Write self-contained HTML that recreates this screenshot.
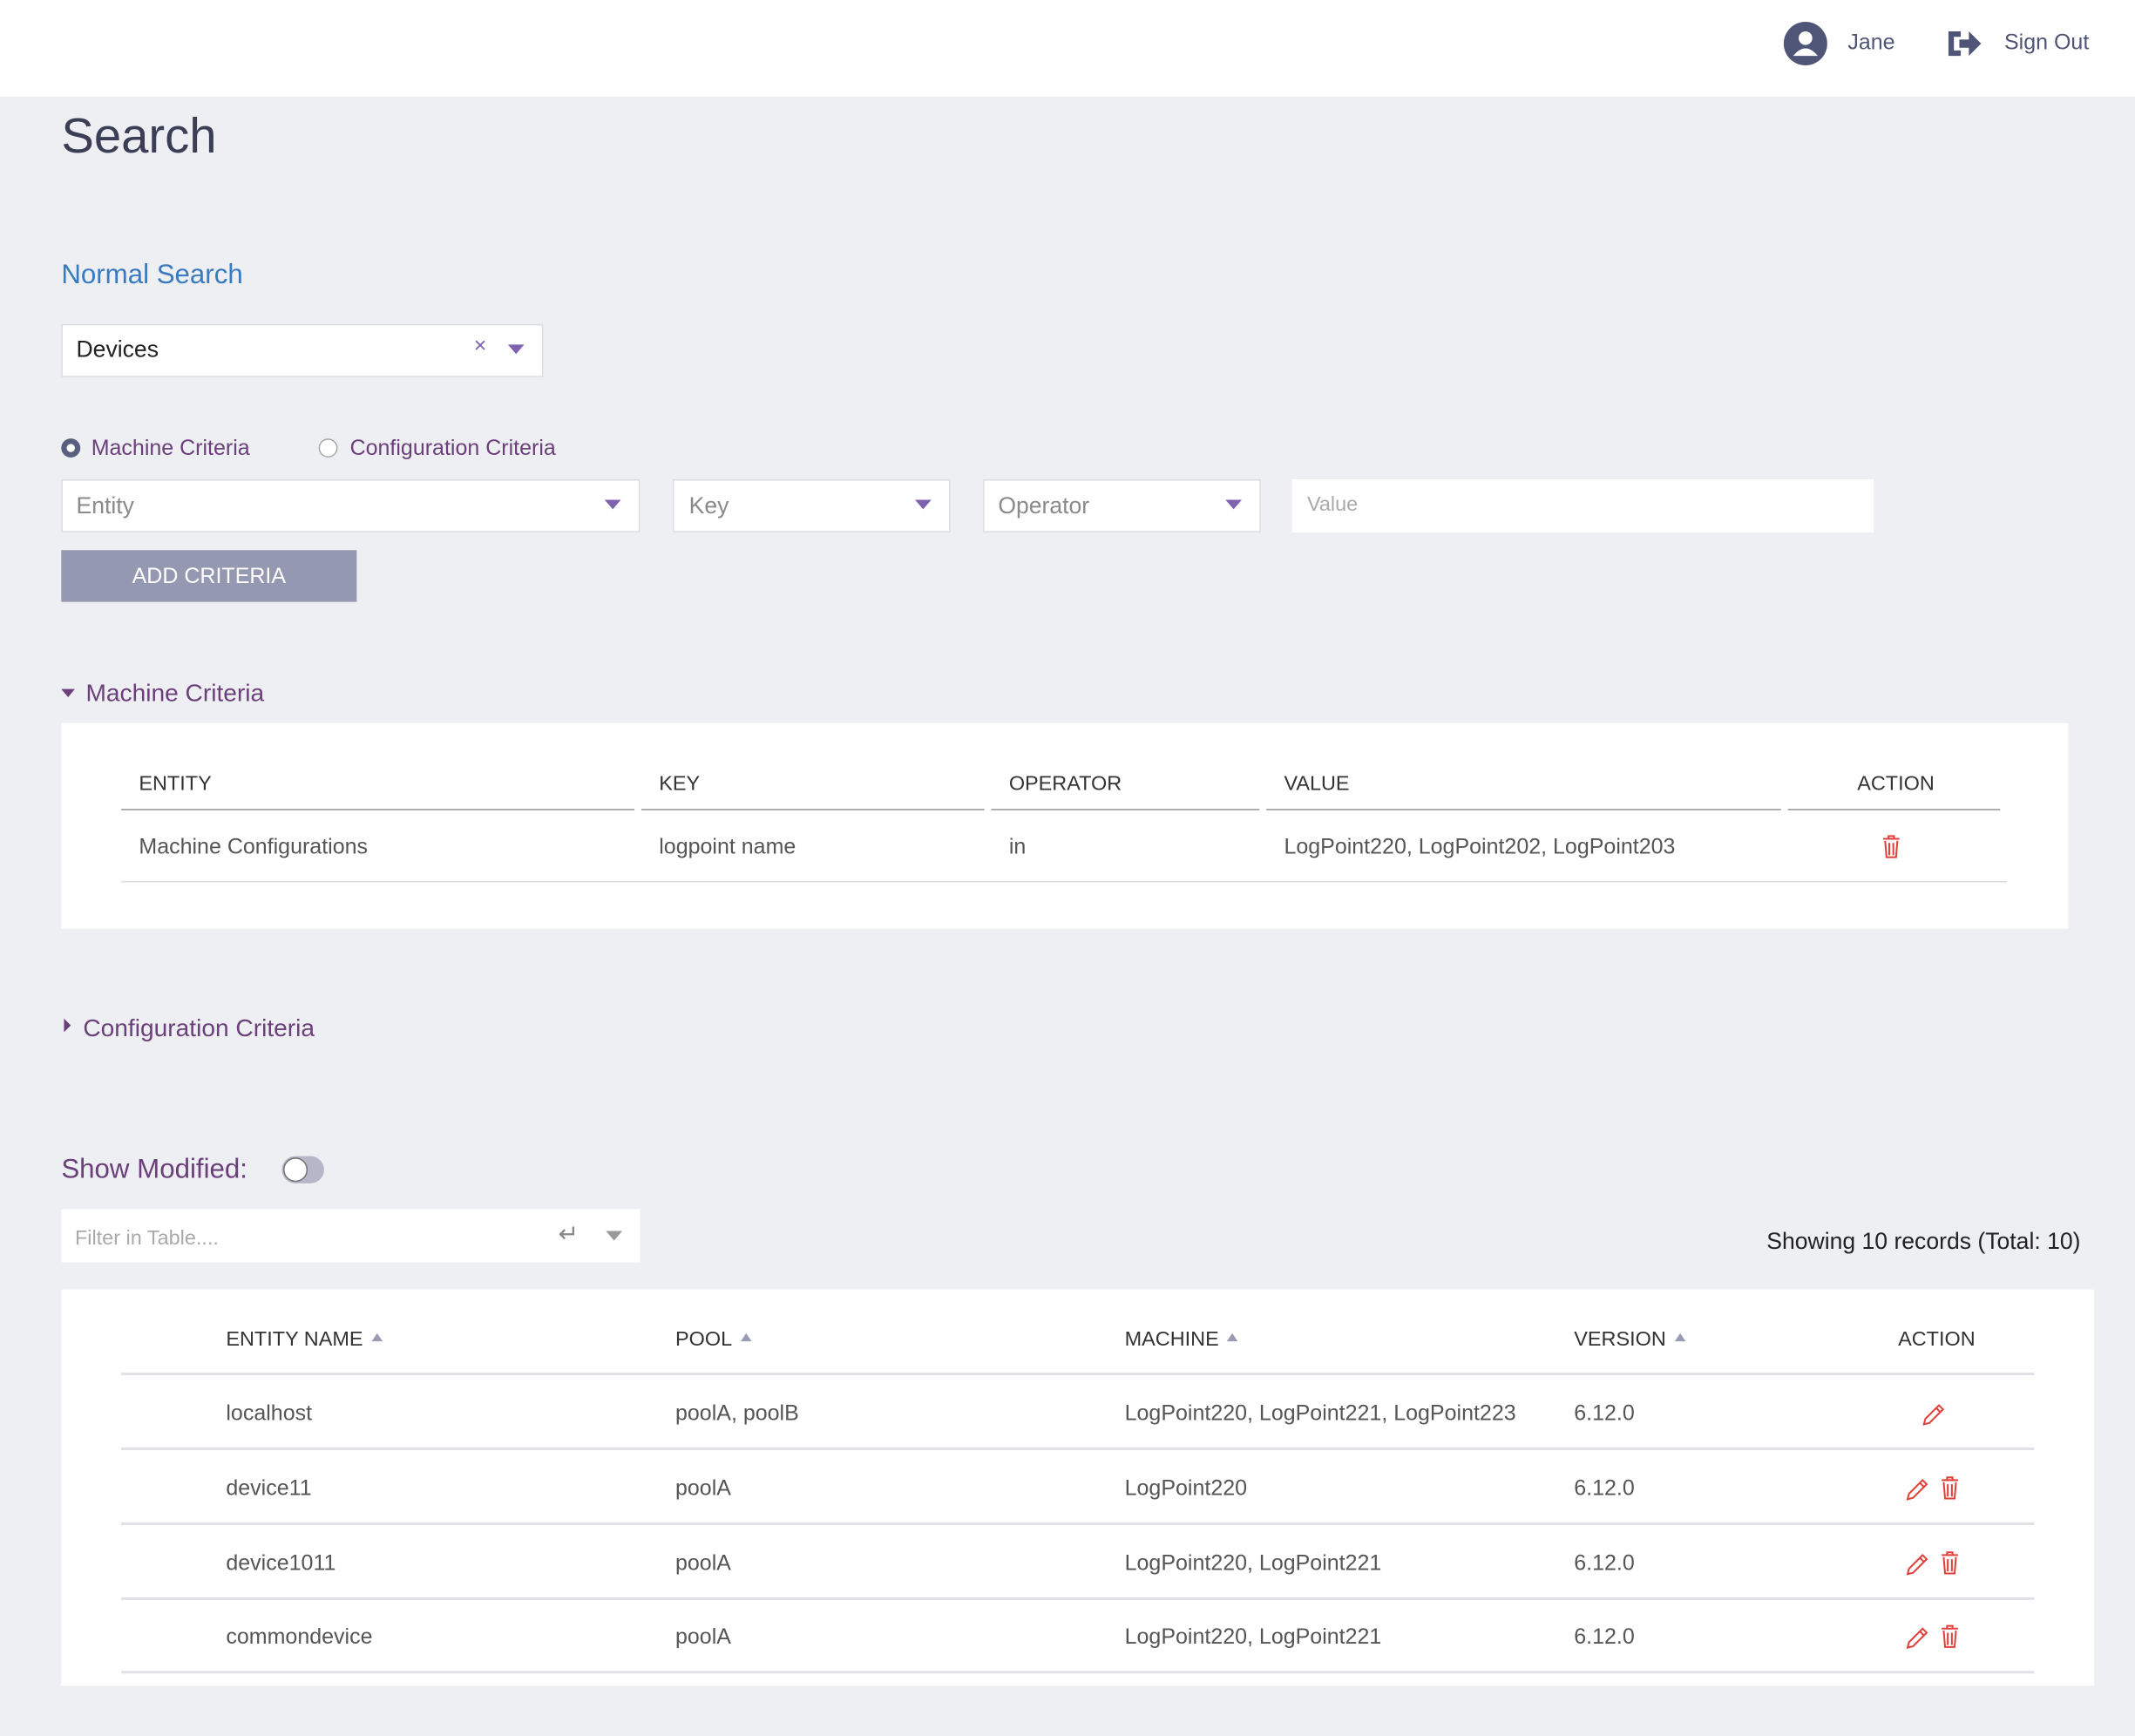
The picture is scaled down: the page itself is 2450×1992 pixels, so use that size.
<!DOCTYPE html>
<html><head><meta charset="utf-8"><style>
html,body{margin:0;padding:0;}
body{width:2450px;height:1992px;overflow:hidden;background:#eeeff3;font-family:"Liberation Sans",sans-serif;}
#w{position:absolute;left:0;top:0;width:1568px;height:1275px;transform:scale(1.5625);transform-origin:0 0;background:#eeeff3;}
.a{position:absolute;white-space:nowrap;}
.box{position:absolute;background:#fff;border:1px solid #dcdde2;box-sizing:border-box;}
.tri{position:absolute;width:0;height:0;border-left:6px solid transparent;border-right:6px solid transparent;border-top:7px solid #7d62b0;}
.ph{color:#8a8a8a;font-size:17px;margin-top:2px;}
.th{font-size:15px;color:#333;margin-top:2px;}
.td{font-size:16px;color:#555;margin-top:2px;}
.ln{position:absolute;height:2px;background:#e2e2e6;}
.ln2{position:absolute;height:1px;background:#999;}
.sort{display:inline-block;width:0;height:0;border-left:4px solid transparent;border-right:4px solid transparent;border-bottom:6px solid #9a9cb5;margin-left:6px;vertical-align:3px;}
</style></head><body><div id="w">
<div class="a" style="left:0;top:0;width:1568px;height:71px;background:#fff"></div>
<svg class="a" style="left:1310px;top:16px" width="32" height="32"><circle cx="16" cy="16" r="16" fill="#4f5577"/><circle cx="16" cy="12" r="5" fill="#fff"/><path d="M7 25 Q16 14 25 25 Z" fill="#fff"/></svg>
<div class="a" style="left:1357px;top:23px;font-size:16px;color:#4f5577">Jane</div>
<svg class="a" style="left:1429px;top:20px" width="28" height="24"><path d="M2 3 h9 v4 h-5 v10 h5 v4 h-9z" fill="#4f5577"/><path d="M10 9 h7 v-6 l9 9 -9 9 v-6 h-7z" fill="#4f5577"/></svg>
<div class="a" style="left:1472px;top:23px;font-size:16px;color:#4f5577">Sign Out</div>

<div class="a" style="left:45px;top:79px;font-size:36px;color:#3a3f55">Search</div>
<div class="a" style="left:45px;top:191px;font-size:20px;color:#3a7bbf">Normal Search</div>

<div class="box" style="left:45px;top:238px;width:354px;height:39px"></div>
<div class="a" style="left:56px;top:247px;font-size:17px;color:#222">Devices</div>
<div class="a" style="left:348px;top:246px;font-size:16px;color:#7d62b0">×</div>
<div class="tri" style="left:373px;top:253px"></div>

<div class="a" style="left:45px;top:322px;width:14px;height:14px;border-radius:50%;background:#5a5f80"><div style="position:absolute;left:4px;top:4px;width:6px;height:6px;border-radius:50%;background:#fff"></div></div>
<div class="a" style="left:67px;top:321px;font-size:16px;color:#6b3f7a">Machine Criteria</div>
<div class="a" style="left:234px;top:322px;width:12px;height:12px;border-radius:50%;border:1px solid #aaa;background:#fff"></div>
<div class="a" style="left:257px;top:321px;font-size:16px;color:#6b3f7a">Configuration Criteria</div>

<div class="box" style="left:45px;top:352px;width:425px;height:39px"></div>
<div class="a ph" style="left:56px;top:360px">Entity</div><div class="tri" style="left:444px;top:367px"></div>
<div class="box" style="left:494px;top:352px;width:204px;height:39px"></div>
<div class="a ph" style="left:506px;top:360px">Key</div><div class="tri" style="left:672px;top:367px"></div>
<div class="box" style="left:722px;top:352px;width:204px;height:39px"></div>
<div class="a ph" style="left:733px;top:360px">Operator</div><div class="tri" style="left:900px;top:367px"></div>
<div class="a" style="left:949px;top:352px;width:427px;height:39px;background:#fff"></div>
<div class="a" style="left:960px;top:362px;font-size:15px;color:#aaa">Value</div>

<div class="a" style="left:45px;top:404px;width:217px;height:38px;background:#9498b0;color:#fff;font-size:16px;text-align:center;line-height:40px">ADD CRITERIA</div>

<div class="tri" style="left:45px;top:506px;border-left-width:5px;border-right-width:5px;border-top-width:6px;border-top-color:#6b3f7a"></div>
<div class="a" style="left:63px;top:499px;font-size:18px;color:#6b3f7a">Machine Criteria</div>

<div class="a" style="left:45px;top:531px;width:1474px;height:151px;background:#fff"></div>
<div class="a th" style="left:102px;top:565px">ENTITY</div>
<div class="a th" style="left:484px;top:565px">KEY</div>
<div class="a th" style="left:741px;top:565px">OPERATOR</div>
<div class="a th" style="left:943px;top:565px">VALUE</div>
<div class="a th" style="left:1364px;top:565px">ACTION</div>
<div class="ln2" style="left:89px;top:594px;width:377px"></div>
<div class="ln2" style="left:471px;top:594px;width:252px"></div>
<div class="ln2" style="left:728px;top:594px;width:197px"></div>
<div class="ln2" style="left:930px;top:594px;width:378px"></div>
<div class="ln2" style="left:1313px;top:594px;width:156px"></div>
<div class="a td" style="left:102px;top:612px">Machine Configurations</div>
<div class="a td" style="left:484px;top:612px">logpoint name</div>
<div class="a td" style="left:741px;top:612px">in</div>
<div class="a td" style="left:943px;top:612px">LogPoint220, LogPoint202, LogPoint203</div>
<svg class="a" style="left:1382px;top:613px" width="14" height="18"><path d="M1 3h12M5 3V1h4v2M2.5 4.5l1 12h7l1-12M5.5 6v9M8.5 6v9" stroke="#e0403a" stroke-width="1.3" fill="none"/></svg>
<div class="ln" style="left:89px;top:647px;width:1385px;height:1px;background:#ddd"></div>

<div class="a" style="left:47px;top:748px;width:0;height:0;border-top:5px solid transparent;border-bottom:5px solid transparent;border-left:5px solid #6b3f7a"></div>
<div class="a" style="left:61px;top:745px;font-size:18px;color:#6b3f7a">Configuration Criteria</div>

<div class="a" style="left:45px;top:848px;font-size:20px;color:#6b3f7a">Show Modified:</div>
<div class="a" style="left:207px;top:849px;width:31px;height:20px;border-radius:10px;background:#b5b7c9"></div>
<div class="a" style="left:208px;top:850px;width:16px;height:16px;border-radius:50%;background:#fff;border:1px solid #777"></div>

<div class="a" style="left:45px;top:888px;width:425px;height:39px;background:#fff"></div>
<div class="a" style="left:55px;top:901px;font-size:15px;color:#aaa">Filter in Table....</div>
<div class="a" style="left:410px;top:896px;font-size:18px;color:#888">↵</div>
<div class="tri" style="left:445px;top:904px;border-top-color:#999"></div>
<div class="a" style="right:40px;top:902px;font-size:17px;color:#222">Showing 10 records (Total: 10)</div>

<div class="a" style="left:45px;top:947px;width:1493px;height:291px;background:#fff"></div>
<div class="a th" style="left:166px;top:973px">ENTITY NAME<span class="sort"></span></div>
<div class="a th" style="left:496px;top:973px">POOL<span class="sort"></span></div>
<div class="a th" style="left:826px;top:973px">MACHINE<span class="sort"></span></div>
<div class="a th" style="left:1156px;top:973px">VERSION<span class="sort"></span></div>
<div class="a th" style="left:1394px;top:973px">ACTION</div>
<div class="ln" style="left:89px;top:1008px;width:1405px"></div>

<div class="a td" style="left:166px;top:1028px">localhost</div><div class="a td" style="left:496px;top:1028px">poolA, poolB</div><div class="a td" style="left:826px;top:1028px">LogPoint220, LogPoint221, LogPoint223</div><div class="a td" style="left:1156px;top:1028px">6.12.0</div>
<div class="ln" style="left:89px;top:1063px;width:1405px"></div>
<div class="a td" style="left:166px;top:1083px">device11</div><div class="a td" style="left:496px;top:1083px">poolA</div><div class="a td" style="left:826px;top:1083px">LogPoint220</div><div class="a td" style="left:1156px;top:1083px">6.12.0</div>
<div class="ln" style="left:89px;top:1118px;width:1405px"></div>
<div class="a td" style="left:166px;top:1138px">device1011</div><div class="a td" style="left:496px;top:1138px">poolA</div><div class="a td" style="left:826px;top:1138px">LogPoint220, LogPoint221</div><div class="a td" style="left:1156px;top:1138px">6.12.0</div>
<div class="ln" style="left:89px;top:1173px;width:1405px"></div>
<div class="a td" style="left:166px;top:1192px">commondevice</div><div class="a td" style="left:496px;top:1192px">poolA</div><div class="a td" style="left:826px;top:1192px">LogPoint220, LogPoint221</div><div class="a td" style="left:1156px;top:1192px">6.12.0</div>
<div class="ln" style="left:89px;top:1227px;width:1405px"></div>

<svg class="a" style="left:1410px;top:1029px" width="20" height="20"><path d="M3 17l1-4L14 3l3 3L7 16z M12 5l3 3" stroke="#e0403a" stroke-width="1.3" fill="none"/></svg>
<svg class="a" style="left:1398px;top:1084px" width="20" height="20"><path d="M3 17l1-4L14 3l3 3L7 16z M12 5l3 3" stroke="#e0403a" stroke-width="1.3" fill="none"/></svg>
<svg class="a" style="left:1425px;top:1084px" width="14" height="18"><path d="M1 3h12M5 3V1h4v2M2.5 4.5l1 12h7l1-12M5.5 6v9M8.5 6v9" stroke="#e0403a" stroke-width="1.3" fill="none"/></svg>
<svg class="a" style="left:1398px;top:1139px" width="20" height="20"><path d="M3 17l1-4L14 3l3 3L7 16z M12 5l3 3" stroke="#e0403a" stroke-width="1.3" fill="none"/></svg>
<svg class="a" style="left:1425px;top:1139px" width="14" height="18"><path d="M1 3h12M5 3V1h4v2M2.5 4.5l1 12h7l1-12M5.5 6v9M8.5 6v9" stroke="#e0403a" stroke-width="1.3" fill="none"/></svg>
<svg class="a" style="left:1398px;top:1193px" width="20" height="20"><path d="M3 17l1-4L14 3l3 3L7 16z M12 5l3 3" stroke="#e0403a" stroke-width="1.3" fill="none"/></svg>
<svg class="a" style="left:1425px;top:1193px" width="14" height="18"><path d="M1 3h12M5 3V1h4v2M2.5 4.5l1 12h7l1-12M5.5 6v9M8.5 6v9" stroke="#e0403a" stroke-width="1.3" fill="none"/></svg>
</div></body></html>
